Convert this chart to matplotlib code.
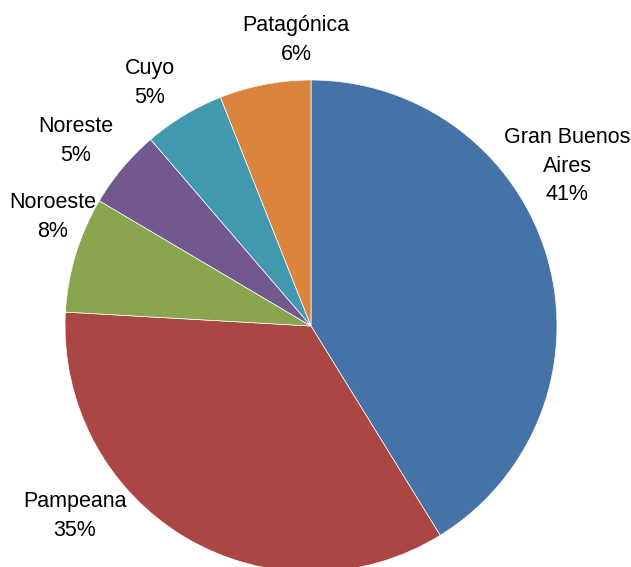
import matplotlib
matplotlib.use('Agg')
import matplotlib.pyplot as plt

plt.rcParams['font.family'] = ['Liberation Sans', 'DejaVu Sans']

regions = ['Gran Buenos\nAires', 'Pampeana', 'Noroeste', 'Noreste', 'Cuyo', 'Patagónica']
shares = [41.2, 34.7, 7.6, 5.2, 5.3, 6.0]
colors = ['#4572A7', '#AA4643', '#89A54E', '#71588F', '#4198AF', '#DB843D']
# label centres in pixels (x, y from top)
label_pos = [(567, 166), (75, 516), (53, 217), (76, 141), (150, 83), (296, 40)]

W, H = 631, 567
fig = plt.figure(figsize=(W / 100, H / 100), dpi=100)
ax = fig.add_axes([0, 0, 1, 1])

ax.pie(shares, colors=colors, startangle=90, counterclock=False,
       center=(311, H - 326), radius=246,
       wedgeprops=dict(edgecolor='white', linewidth=0.5))

for name, val, (px, py) in zip(regions, shares, label_pos):
    ax.text(px, H - py, '%s\n%.0f%%' % (name, val), ha='center', va='center',
            fontsize=15.5, color='black', linespacing=1.45)

ax.set_xlim(0, W)
ax.set_ylim(0, H)
ax.set_aspect('equal')
ax.axis('off')

fig.savefig('out.png', dpi=100)
